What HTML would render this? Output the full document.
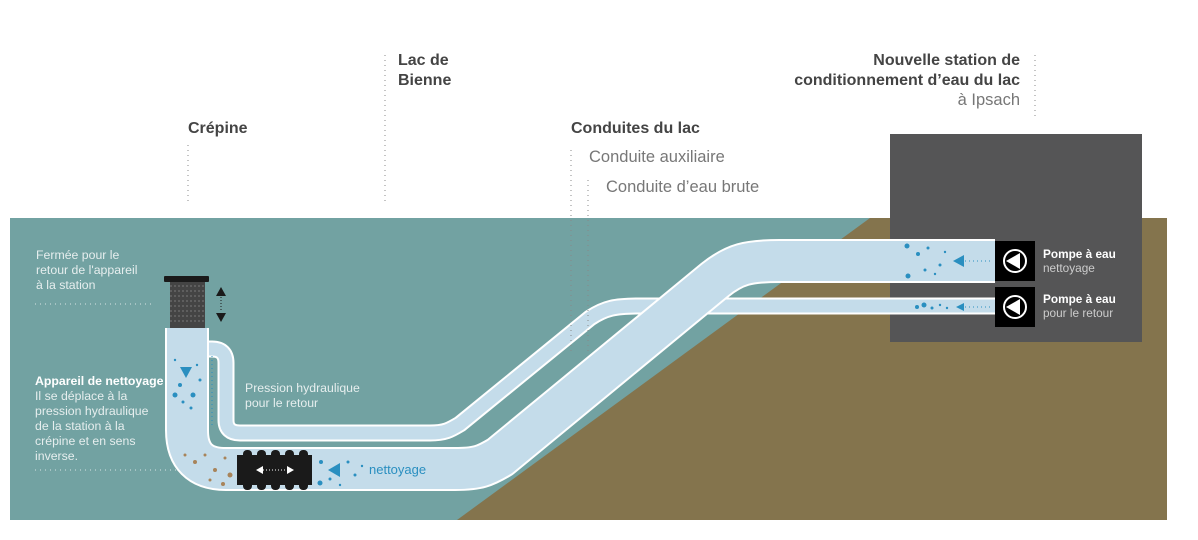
<!DOCTYPE html>
<html><head><meta charset="utf-8"><style>
body{margin:0;background:#fff;}
svg{display:block;font-family:"Liberation Sans",Arial,sans-serif;}
</style></head><body>
<svg width="1198" height="540" viewBox="0 0 1198 540" xmlns="http://www.w3.org/2000/svg">
<rect x="10" y="218" width="1157" height="302" fill="#72a2a2"/>
<polygon points="457,520 870,218 1167,218 1167,520" fill="#84744d"/>
<rect x="890" y="134" width="252" height="208" fill="#555556"/>
<g fill="none" stroke-linecap="butt" stroke-linejoin="round">
<path d="M200,349 H212 Q226,349 226,363 V420 Q226,433 240,433 H430 C445,433 450,430 460,424 L590,318 C605,308 615,306 640,306 H995" stroke="#fff" stroke-width="17"/>
<path d="M200,349 H212 Q226,349 226,363 V420 Q226,433 240,433 H430 C445,433 450,430 460,424 L590,318 C605,308 615,306 640,306 H995" stroke="#c4dcea" stroke-width="13"/>
<path d="M187,328 V430 Q187,469 226,469 H455 C478,469 485,466 500,457 L715,280 C735,264 748,261 780,261 H995" stroke="#fff" stroke-width="44"/>
<path d="M187,328 V430 Q187,469 226,469 H455 C478,469 485,466 500,457 L715,280 C735,264 748,261 780,261 H995" stroke="#c4dcea" stroke-width="40"/>
</g>
<!-- crepine -->
<rect x="164" y="276" width="45" height="6" rx="1" fill="#1a1a1a"/>
<rect x="170" y="282" width="35" height="46" fill="#444"/>
<g stroke="#777" stroke-width="1" stroke-dasharray="2,2"><line x1="170" y1="286" x2="205" y2="286"/><line x1="170" y1="291" x2="205" y2="291"/><line x1="170" y1="296" x2="205" y2="296"/><line x1="170" y1="301" x2="205" y2="301"/><line x1="170" y1="306" x2="205" y2="306"/><line x1="170" y1="311" x2="205" y2="311"/><line x1="170" y1="316" x2="205" y2="316"/><line x1="170" y1="321" x2="205" y2="321"/></g>
<polygon points="221,287 216,296 226,296" fill="#1a1a1a"/><polygon points="221,322 216,313 226,313" fill="#1a1a1a"/>
<line x1="221" y1="297" x2="221" y2="312" stroke="#1a1a1a" stroke-dasharray="1,2"/>
<!-- device -->
<rect x="237" y="455" width="75" height="30" fill="#1a1a1a"/>
<g fill="#1a1a1a"><rect x="243" y="450" width="9" height="40" rx="4"/><rect x="257" y="450" width="9" height="40" rx="4"/><rect x="271" y="450" width="9" height="40" rx="4"/><rect x="285" y="450" width="9" height="40" rx="4"/><rect x="299" y="450" width="9" height="40" rx="4"/></g>
<polygon points="256,470 263,466 263,474" fill="#fff"/><polygon points="294,470 287,466 287,474" fill="#fff"/>
<line x1="263" y1="470" x2="287" y2="470" stroke="#fff" stroke-dasharray="1,2"/>
<!-- particles -->
<g fill="#2a8fc0">
<polygon points="180,367 192,367 186,378"/>
<circle cx="175" cy="395" r="2.5"/><circle cx="180" cy="385" r="2"/><circle cx="193" cy="395" r="2.5"/><circle cx="200" cy="380" r="1.5"/><circle cx="183" cy="402" r="1.5"/><circle cx="175" cy="360" r="1.2"/><circle cx="197" cy="365" r="1.2"/><circle cx="191" cy="408" r="1.5"/>
<polygon points="328,470 340,463 340,477"/>
<circle cx="321" cy="462" r="2"/><circle cx="320" cy="483" r="2.5"/><circle cx="330" cy="479" r="1.5"/><circle cx="348" cy="462" r="1.5"/><circle cx="355" cy="475" r="1.5"/><circle cx="362" cy="466" r="1.2"/><circle cx="340" cy="485" r="1.2"/>
<polygon points="953,261 964,255 964,267"/>
<circle cx="907" cy="246" r="2.5"/><circle cx="908" cy="276" r="2.5"/><circle cx="918" cy="254" r="2"/><circle cx="928" cy="248" r="1.5"/><circle cx="925" cy="270" r="1.5"/><circle cx="940" cy="265" r="1.5"/><circle cx="945" cy="252" r="1.2"/><circle cx="935" cy="274" r="1.2"/>
<polygon points="956,307 964,303 964,311"/>
<circle cx="917" cy="307" r="2"/><circle cx="924" cy="305" r="2.5"/><circle cx="932" cy="308" r="1.5"/><circle cx="940" cy="305" r="1.2"/><circle cx="947" cy="308" r="1.2"/>
</g>
<g fill="#a8845a"><circle cx="185" cy="455" r="1.5"/><circle cx="195" cy="462" r="2"/><circle cx="205" cy="455" r="1.5"/><circle cx="215" cy="470" r="2"/><circle cx="225" cy="458" r="1.5"/><circle cx="223" cy="484" r="2"/><circle cx="230" cy="475" r="2.5"/><circle cx="210" cy="480" r="1.5"/></g>
<g stroke="#2a8fc0" stroke-dasharray="1,3" fill="none"><line x1="965" y1="261" x2="992" y2="261"/><line x1="965" y1="307" x2="992" y2="307"/><path d="M212,356 V428"/></g>
<!-- pumps -->
<rect x="995" y="241" width="40" height="40" fill="#000"/><rect x="995" y="287" width="40" height="40" fill="#000"/>
<circle cx="1015" cy="261" r="11" fill="none" stroke="#fff" stroke-width="2"/><polygon points="1006,261 1020,253 1020,269" fill="#fff"/>
<circle cx="1015" cy="307" r="11" fill="none" stroke="#fff" stroke-width="2"/><polygon points="1006,307 1020,299 1020,315" fill="#fff"/>
<g font-size="11.8" fill="#fff"><text x="1043" y="258" font-weight="bold">Pompe à eau</text><text x="1043" y="272" fill="#ccc">nettoyage</text>
<text x="1043" y="303" font-weight="bold">Pompe à eau</text><text x="1043" y="317" fill="#ccc">pour le retour</text></g>
<!-- dotted leaders -->
<g stroke="#888" stroke-dasharray="1,4" fill="none">
<line x1="188" y1="145" x2="188" y2="205"/><line x1="385" y1="55" x2="385" y2="205"/><line x1="1035" y1="55" x2="1035" y2="118"/>
<line x1="571" y1="150" x2="571" y2="355"/><line x1="588" y1="180" x2="588" y2="355"/>
</g>
<g stroke="#d8e4e4" stroke-dasharray="1,4"><line x1="35" y1="304" x2="155" y2="304"/><line x1="35" y1="470" x2="180" y2="470"/></g>
<!-- headings -->
<g font-size="16" font-weight="bold" fill="#444">
<text x="188" y="133">Crépine</text><text x="398" y="65">Lac de</text><text x="398" y="85">Bienne</text>
<text x="571" y="133">Conduites du lac</text>
<text x="1020" y="65" text-anchor="end">Nouvelle station de</text><text x="1020" y="85" text-anchor="end">conditionnement d’eau du lac</text>
</g>
<g font-size="16.5" fill="#777"><text x="1020" y="105" text-anchor="end">à Ipsach</text><text x="589" y="162">Conduite auxiliaire</text><text x="606" y="192">Conduite d’eau brute</text></g>
<g font-size="12.3" fill="#e6eeee">
<text x="36" y="259">Fermée pour le</text><text x="36" y="274">retour de l'appareil</text><text x="36" y="289">à la station</text>
<text x="35" y="385" font-weight="bold" fill="#fff">Appareil de nettoyage</text>
<text x="35" y="400">Il se déplace à la</text><text x="35" y="415">pression hydraulique</text><text x="35" y="430">de la station à la</text><text x="35" y="445">crépine et en sens</text><text x="35" y="460">inverse.</text>
<text x="245" y="392">Pression hydraulique</text><text x="245" y="407">pour le retour</text>
</g>
<text x="369" y="474" font-size="13" fill="#2a8fc0">nettoyage</text>
</svg>
</body></html>
